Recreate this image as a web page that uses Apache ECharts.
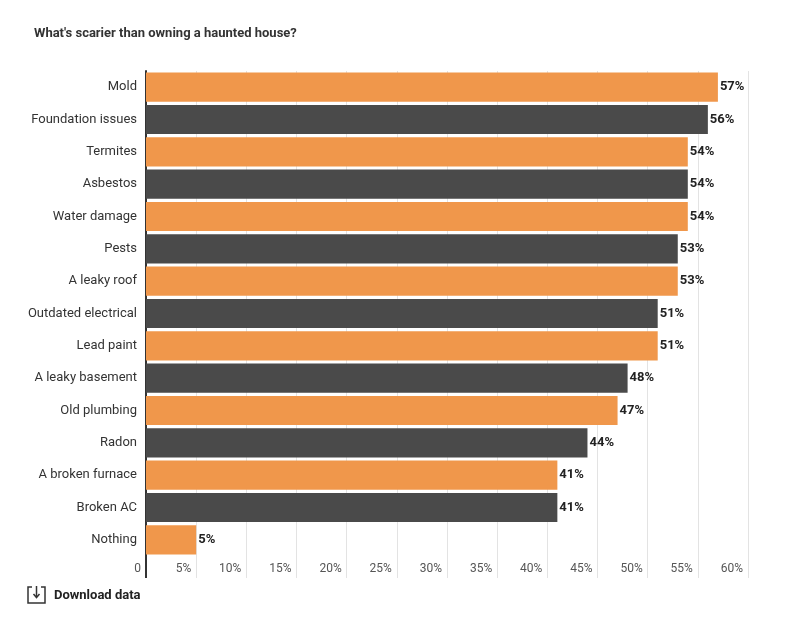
<!DOCTYPE html>
<html>
<head>
<meta charset="utf-8">
<script src="https://cdn.jsdelivr.net/npm/echarts@6/dist/echarts.min.js"></script>
<style>
  html, body { margin: 0; padding: 0; background: #fff; }
  #chart { width: 800px; height: 629px; }
</style>
</head>
<body>
<div id="chart"></div>
<script>
var categories = [
  "Mold", "Foundation issues", "Termites", "Asbestos", "Water damage",
  "Pests", "A leaky roof", "Outdated electrical", "Lead paint",
  "A leaky basement", "Old plumbing", "Radon", "A broken furnace",
  "Broken AC", "Nothing"
];
var values = [57, 56, 54, 54, 54, 53, 53, 51, 51, 48, 47, 44, 41, 41, 5];
var barColors = ["#f0974b", "#4a4a4a"];

var chart = echarts.init(document.getElementById("chart"));
var font = "Roboto, 'Noto Sans', sans-serif";

var option = {
  backgroundColor: "#fff",
  animation: false,
  textStyle: { fontFamily: font },
  title: {
    text: "What's scarier than owning a haunted house?",
    left: 29,
    top: 22,
    textStyle: { fontFamily: font, fontSize: 13, fontWeight: "bold", color: "#333" }
  },
  grid: { left: 146, right: 52, top: 71, bottom: 73, containLabel: false },
  xAxis: [
    {
      type: "value",
      min: 0,
      max: 60,
      interval: 5,
      axisLine: { show: false },
      axisTick: { show: true, length: 22, lineStyle: { color: "#e3e3e3", width: 1 } },
      splitLine: { show: true, lineStyle: { color: "#e3e3e3", width: 1 } },
      axisLabel: {
        margin: 7,
        align: "right",
        padding: [0, 5, 0, 0],
        fontSize: 12,
        color: "#555",
        formatter: function (v) { return v === 0 ? "0" : v + "%"; }
      }
    },
    {
      type: "value",
      position: "bottom",
      min: 0,
      max: 60,
      axisLine: { show: false },
      axisLabel: { show: false },
      splitLine: { show: false },
      axisTick: { show: true, customValues: [0], length: 22, lineStyle: { color: "#333", width: 2 } }
    }
  ],
  yAxis: {
    type: "category",
    data: categories,
    inverse: true,
    axisLine: { show: true, lineStyle: { color: "#333", width: 2 } },
    axisTick: { show: false },
    axisLabel: { margin: 9, fontSize: 13, color: "#333" }
  },
  series: [
    {
      type: "bar",
      data: values,
      xAxisIndex: 0,
      barCategoryGap: "10%",
      itemStyle: {
        color: function (p) { return barColors[p.dataIndex % 2]; }
      },
      label: {
        show: true,
        position: "right",
        distance: 2,
        fontSize: 13,
        fontWeight: "bold",
        color: "#222",
        formatter: "{c}%"
      }
    }
  ],
  graphic: [
    {
      type: "polyline",
      shape: { points: [[32, 587], [28, 587], [28, 603], [45, 603], [45, 587], [41, 587]] },
      style: { stroke: "#333", lineWidth: 1.5, fill: null }
    },
    {
      type: "polyline",
      shape: { points: [[36.5, 586], [36.5, 597]] },
      style: { stroke: "#333", lineWidth: 1.5, fill: null }
    },
    {
      type: "polyline",
      shape: { points: [[33.5, 594], [36.5, 597.5], [39.5, 594]] },
      style: { stroke: "#333", lineWidth: 1.5, fill: null }
    },
    {
      type: "text",
      left: 54,
      top: 589,
      style: { text: "Download data", font: "bold 13px " + font, fill: "#222" }
    }
  ]
};

chart.setOption(option);
</script>
</body>
</html>
